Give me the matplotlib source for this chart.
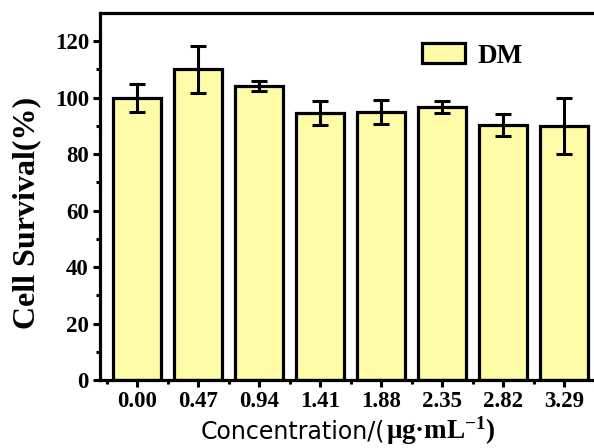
import matplotlib
matplotlib.use("Agg")
import matplotlib.pyplot as plt
from matplotlib.ticker import FixedLocator
from matplotlib.offsetbox import TextArea, HPacker, AnchoredOffsetbox

categories = ["0.00", "0.47", "0.94", "1.41", "1.88", "2.35", "2.82", "3.29"]
survival = [100.0, 110.0, 104.0, 94.6, 95.0, 96.8, 90.4, 90.0]
errors = [5.0, 8.2, 1.8, 4.4, 4.3, 2.2, 3.9, 9.9]
series_name = "DM"

plt.rcParams['mathtext.fontset'] = 'custom'
plt.rcParams['mathtext.rm'] = 'Liberation Serif:bold'
plt.rcParams['mathtext.bf'] = 'Liberation Serif:bold'
plt.rcParams['mathtext.default'] = 'rm'

W, H = 594, 448
fig = plt.figure(figsize=(W / 100, H / 100), dpi=100)
left, right, top, bottom = 100, 598, 13, 380
ax = fig.add_axes([left / W, 1 - bottom / H, (right - left) / W, (bottom - top) / H])

pos = list(range(1, len(categories) + 1))
bars = ax.bar(pos, survival, width=0.8, color="#FFFBA6", edgecolor="black",
              linewidth=2.3, label=series_name, zorder=2)
ax.errorbar(pos, survival, yerr=errors, fmt="none", ecolor="black",
            elinewidth=2.2, capsize=6, capthick=2.2, zorder=3)

ax.set_xlim(1 - 37 / 61, 8 + 34 / 61)
ax.set_ylim(0, 130)
ax.set_xticks(pos)
ax.set_xticklabels(categories)
ax.xaxis.set_minor_locator(FixedLocator([p + 0.5 for p in range(0, 9)]))
ax.yaxis.set_major_locator(FixedLocator([0, 20, 40, 60, 80, 100, 120]))
ax.yaxis.set_minor_locator(FixedLocator([10, 30, 50, 70, 90, 110]))

for s in ax.spines.values():
    s.set_linewidth(2.3)
ax.spines['right'].set_visible(False)

ax.tick_params(axis='both', which='major', direction='out', length=5, width=2.2, pad=3)
ax.tick_params(axis='both', which='minor', direction='out', length=3, width=2.2)
for lab in ax.get_xticklabels() + ax.get_yticklabels():
    lab.set_fontfamily("Liberation Serif")
    lab.set_fontweight("bold")
    lab.set_fontsize(16.5)

ax.set_ylabel("Cell Survival(%)", fontfamily="Liberation Serif", fontweight="bold",
              fontsize=23)
ax.yaxis.set_label_coords((41 - left) / (right - left), (bottom - 213) / (bottom - top))

# x label: mixed sans + serif
t1 = TextArea("Concentration/(", textprops=dict(family="DejaVu Sans", size=17, color="black"))
t2 = TextArea(r"μg·mL$^{-1}$)", textprops=dict(family="Liberation Serif", weight="bold",
                                                size=19.5, color="black"))
pack = HPacker(children=[t1, t2], align="baseline", pad=0, sep=1)
ab = AnchoredOffsetbox(loc="upper center", child=pack, pad=0, borderpad=0, frameon=False,
                       bbox_to_anchor=(348 / W, 1 - 414 / H), bbox_transform=fig.transFigure)
fig.add_artist(ab)

leg = ax.legend(handles=[bars], labels=[series_name], loc="upper left",
                bbox_to_anchor=(422 / W, 1 - 43 / H), bbox_transform=fig.transFigure,
                frameon=False, borderpad=0, borderaxespad=0, handlelength=1.6,
                handleheight=0.78, handletextpad=0.45,
                prop=dict(family="Liberation Serif", weight="bold", size=19.5))

fig.savefig("out.png", dpi=100)
